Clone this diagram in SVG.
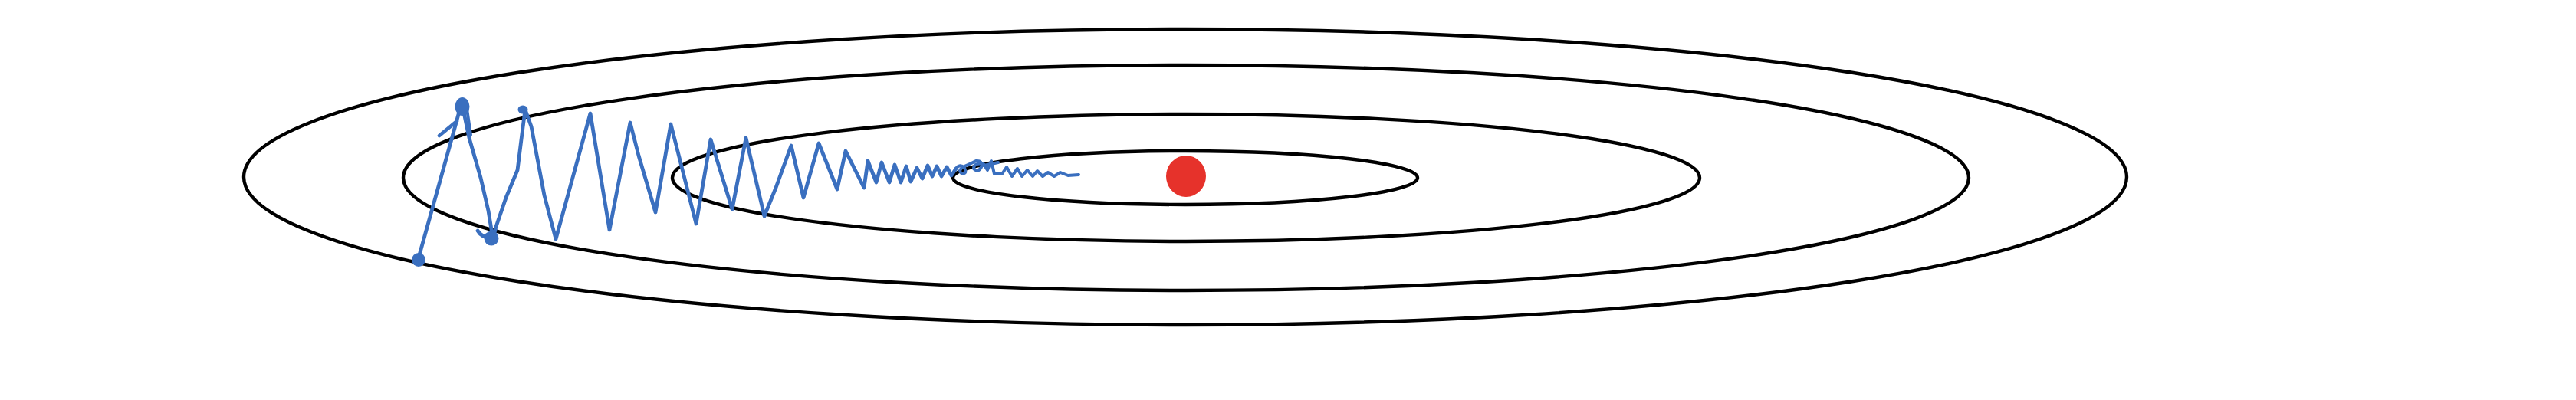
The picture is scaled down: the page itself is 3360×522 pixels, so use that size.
<svg xmlns="http://www.w3.org/2000/svg" width="3360" height="522" viewBox="0 0 3360 522">
<style>
.contour{fill:none;stroke:#000;stroke-width:4.4}
.path{fill:none;stroke:#3a6fbf;stroke-width:4.8;stroke-linejoin:round;stroke-linecap:round}
.thin{stroke-width:4}
.blob{fill:#3a6fbf}
</style>
<rect width="3360" height="522" fill="#fff"/>
<g id="contours">
<ellipse id="contour-1" class="contour" cx="1546" cy="231" rx="1228" ry="193"/>
<ellipse id="contour-2" class="contour" cx="1547" cy="232" rx="1021" ry="147"/>
<ellipse id="contour-3" class="contour" cx="1547" cy="232" rx="670" ry="83"/>
<ellipse id="contour-4" class="contour" cx="1546" cy="232" rx="303" ry="35"/>
</g>
<g id="descent-path">
<path class="path" d="M545,340 L574,236 L600,142 L603,137 L612,180 L627,232 L637,275 L643,312 L647,296 L660,258 L675,222 L680,182 L685,143 L693,165 L710,255 L725,312 L770,148 L795,300 L822,160 L833,203 L855,277 L875,162 L908,292 L927,182 L955,273 L973,180 L997,282 L1012,245 L1032,190 L1048,258 L1068,187 L1092,247 L1103,197 L1127,245 L1132,210 L1143,238 L1150,212 L1160,238 L1167,215 L1175,238 L1182,217 L1188,237 L1196,219 L1203,233 L1210,216 L1216,230 L1222,217 L1228,230 L1235,218 L1241,229 L1247,220"/>
<path class="path thin" d="M1247,220 Q1252,213 1258,219 Q1262,228 1254,226 Q1249,222 1258,217 L1267,213 L1273,210 Q1282,209 1280,218 Q1276,226 1270,220 Q1270,212 1283,214 L1288,222 L1293,210 L1297,227 L1307,227 L1313,218 L1320,230 L1327,220 L1333,230 L1340,222 L1347,230 L1353,223 L1360,230 L1367,225 L1375,230 L1383,225 L1393,229 L1407,228"/>
<path class="path thin" d="M1283,216 L1302,212"/>
<path class="path" d="M573,177 L596,158"/>
<path class="path thin" d="M609,142 L614,176"/>
<path class="path" d="M643,312 Q628,310 623,301"/>
<circle class="blob" cx="546" cy="339" r="9"/>
<ellipse class="blob" cx="603" cy="139" rx="9.5" ry="12"/>
<ellipse class="blob" cx="641" cy="311" rx="9.5" ry="9.5"/>
<ellipse class="blob" cx="682" cy="143" rx="6.5" ry="5.5"/>
</g>
<g id="minimum">
<ellipse cx="1547" cy="230" rx="26" ry="27" fill="#e6322b"/>
</g>
</svg>
